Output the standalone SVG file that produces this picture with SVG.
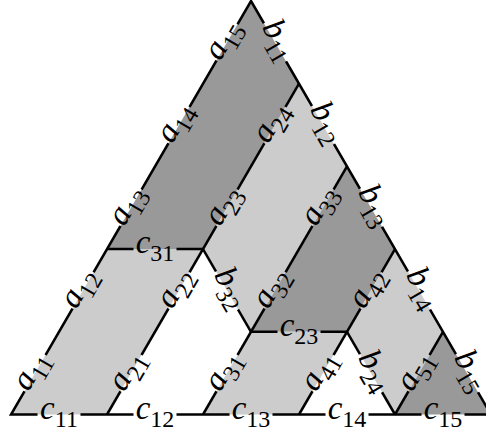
<svg xmlns="http://www.w3.org/2000/svg" width="486" height="430" viewBox="0 0 486 430">
<style>
.dark{fill:#999999}
.light{fill:#cccccc}
.ln{fill:none;stroke:#000;stroke-width:2.5;stroke-linejoin:miter;stroke-miterlimit:10}
.gp{fill:#000}
text{font-family:"Liberation Serif","Times New Roman",serif;font-size:33px;text-anchor:middle;fill:#000}
.v{font-style:italic}
.s{font-size:24px;font-style:normal}
</style>
<defs>
<mask id="gaps" maskUnits="userSpaceOnUse" x="0" y="0" width="486" height="430">
<rect x="0" y="0" width="486" height="430" fill="#fff"/>
<g class="gp">
<rect x="-21" y="-5" width="42" height="10" transform="translate(35,373.15) rotate(-59.87)"/>
<rect x="-21" y="-5" width="42" height="10" transform="translate(83,290.45) rotate(-59.87)"/>
<rect x="-21" y="-5" width="42" height="10" transform="translate(131,207.75) rotate(-59.87)"/>
<rect x="-21" y="-5" width="42" height="10" transform="translate(179,125.05) rotate(-59.87)"/>
<rect x="-21" y="-5" width="42" height="10" transform="translate(227,42.35) rotate(-59.87)"/>
<rect x="-21" y="-5" width="42" height="10" transform="translate(131,373.15) rotate(-59.87)"/>
<rect x="-21" y="-5" width="42" height="10" transform="translate(179,290.45) rotate(-59.87)"/>
<rect x="-21" y="-5" width="42" height="10" transform="translate(227,207.75) rotate(-59.87)"/>
<rect x="-21" y="-5" width="42" height="10" transform="translate(275,125.05) rotate(-59.87)"/>
<rect x="-21" y="-5" width="42" height="10" transform="translate(227,373.15) rotate(-59.87)"/>
<rect x="-21" y="-5" width="42" height="10" transform="translate(275,290.45) rotate(-59.87)"/>
<rect x="-21" y="-5" width="42" height="10" transform="translate(323,207.75) rotate(-59.87)"/>
<rect x="-21" y="-5" width="42" height="10" transform="translate(323,373.15) rotate(-59.87)"/>
<rect x="-21" y="-5" width="42" height="10" transform="translate(371,290.45) rotate(-59.87)"/>
<rect x="-21" y="-5" width="42" height="10" transform="translate(419,373.15) rotate(-59.87)"/>
<rect x="-22" y="-5" width="44" height="10" transform="translate(275,42.35) rotate(59.87)"/>
<rect x="-22" y="-5" width="44" height="10" transform="translate(323,125.05) rotate(59.87)"/>
<rect x="-22" y="-5" width="44" height="10" transform="translate(371,207.75) rotate(59.87)"/>
<rect x="-22" y="-5" width="44" height="10" transform="translate(419,290.45) rotate(59.87)"/>
<rect x="-22" y="-5" width="44" height="10" transform="translate(467,373.15) rotate(59.87)"/>
<rect x="-22" y="-5" width="44" height="10" transform="translate(227,290.45) rotate(59.87)"/>
<rect x="-22" y="-5" width="44" height="10" transform="translate(371,373.15) rotate(59.87)"/>
<rect x="37.5" y="409.5" width="43" height="10"/>
<rect x="133.5" y="409.5" width="43" height="10"/>
<rect x="229.5" y="409.5" width="43" height="10"/>
<rect x="325.5" y="409.5" width="43" height="10"/>
<rect x="421.5" y="409.5" width="43" height="10"/>
<rect x="133.5" y="244.1" width="43" height="10"/>
<rect x="277.5" y="326.8" width="43" height="10"/>
</g>
</mask>
</defs>

<g id="regions">
<polygon id="r-dark1" class="dark" points="107,249.1 251,1 299,83.7 203,249.1"/>
<polygon id="r-light1" class="light" points="11,414.5 107,414.5 203,249.1 107,249.1"/>
<polygon id="r-light2" class="light" points="299,83.7 347,166.4 251,331.8 203,249.1"/>
<polygon id="r-dark2" class="dark" points="347,166.4 395,249.1 347,331.8 251,331.8"/>
<polygon id="r-light3" class="light" points="203,414.5 299,414.5 347,331.8 251,331.8"/>
<polygon id="r-light4" class="light" points="395,249.1 443,331.8 395,414.5 347,331.8"/>
<polygon id="r-dark3" class="dark" points="395,414.5 491,414.5 443,331.8"/>
</g>

<g id="edges" class="ln" mask="url(#gaps)">
<polygon points="251,1 491,414.5 11,414.5"/>
<line x1="107" y1="414.5" x2="299" y2="83.7"/>
<line x1="203" y1="414.5" x2="347" y2="166.4"/>
<line x1="299" y1="414.5" x2="395" y2="249.1"/>
<line x1="395" y1="414.5" x2="443" y2="331.8"/>
<line x1="107" y1="249.1" x2="203" y2="249.1"/>
<line x1="251" y1="331.8" x2="347" y2="331.8"/>
<line x1="203" y1="249.1" x2="251" y2="331.8"/>
<line x1="347" y1="331.8" x2="395" y2="414.5"/>
</g>

<g id="labels">
<g id="l-a11" transform="translate(35,373.15) rotate(-59.87)"><text x="0" y="4"><tspan class="v">a</tspan><tspan class="s" dy="8">11</tspan></text></g>
<g id="l-a12" transform="translate(83,290.45) rotate(-59.87)"><text x="0" y="4"><tspan class="v">a</tspan><tspan class="s" dy="8">12</tspan></text></g>
<g id="l-a13" transform="translate(131,207.75) rotate(-59.87)"><text x="0" y="4"><tspan class="v">a</tspan><tspan class="s" dy="8">13</tspan></text></g>
<g id="l-a14" transform="translate(179,125.05) rotate(-59.87)"><text x="0" y="4"><tspan class="v">a</tspan><tspan class="s" dy="8">14</tspan></text></g>
<g id="l-a15" transform="translate(227,42.35) rotate(-59.87)"><text x="0" y="4"><tspan class="v">a</tspan><tspan class="s" dy="8">15</tspan></text></g>
<g id="l-a21" transform="translate(131,373.15) rotate(-59.87)"><text x="0" y="4"><tspan class="v">a</tspan><tspan class="s" dy="8">21</tspan></text></g>
<g id="l-a22" transform="translate(179,290.45) rotate(-59.87)"><text x="0" y="4"><tspan class="v">a</tspan><tspan class="s" dy="8">22</tspan></text></g>
<g id="l-a23" transform="translate(227,207.75) rotate(-59.87)"><text x="0" y="4"><tspan class="v">a</tspan><tspan class="s" dy="8">23</tspan></text></g>
<g id="l-a24" transform="translate(275,125.05) rotate(-59.87)"><text x="0" y="4"><tspan class="v">a</tspan><tspan class="s" dy="8">24</tspan></text></g>
<g id="l-a31" transform="translate(227,373.15) rotate(-59.87)"><text x="0" y="4"><tspan class="v">a</tspan><tspan class="s" dy="8">31</tspan></text></g>
<g id="l-a32" transform="translate(275,290.45) rotate(-59.87)"><text x="0" y="4"><tspan class="v">a</tspan><tspan class="s" dy="8">32</tspan></text></g>
<g id="l-a33" transform="translate(323,207.75) rotate(-59.87)"><text x="0" y="4"><tspan class="v">a</tspan><tspan class="s" dy="8">33</tspan></text></g>
<g id="l-a41" transform="translate(323,373.15) rotate(-59.87)"><text x="0" y="4"><tspan class="v">a</tspan><tspan class="s" dy="8">41</tspan></text></g>
<g id="l-a42" transform="translate(371,290.45) rotate(-59.87)"><text x="0" y="4"><tspan class="v">a</tspan><tspan class="s" dy="8">42</tspan></text></g>
<g id="l-a51" transform="translate(419,373.15) rotate(-59.87)"><text x="0" y="4"><tspan class="v">a</tspan><tspan class="s" dy="8">51</tspan></text></g>
<g id="l-b11" transform="translate(275,42.35) rotate(59.87)"><text x="0" y="4"><tspan class="v">b</tspan><tspan class="s" dy="8">11</tspan></text></g>
<g id="l-b12" transform="translate(323,125.05) rotate(59.87)"><text x="0" y="4"><tspan class="v">b</tspan><tspan class="s" dy="8">12</tspan></text></g>
<g id="l-b13" transform="translate(371,207.75) rotate(59.87)"><text x="0" y="4"><tspan class="v">b</tspan><tspan class="s" dy="8">13</tspan></text></g>
<g id="l-b14" transform="translate(419,290.45) rotate(59.87)"><text x="0" y="4"><tspan class="v">b</tspan><tspan class="s" dy="8">14</tspan></text></g>
<g id="l-b15" transform="translate(467,373.15) rotate(59.87)"><text x="0" y="4"><tspan class="v">b</tspan><tspan class="s" dy="8">15</tspan></text></g>
<g id="l-b32" transform="translate(227,290.45) rotate(59.87)"><text x="0" y="4"><tspan class="v">b</tspan><tspan class="s" dy="8">32</tspan></text></g>
<g id="l-b24" transform="translate(371,373.15) rotate(59.87)"><text x="0" y="4"><tspan class="v">b</tspan><tspan class="s" dy="8">24</tspan></text></g>
<g id="l-c11"><text x="59" y="418.5"><tspan class="v">c</tspan><tspan class="s" dy="8">11</tspan></text></g>
<g id="l-c12"><text x="155" y="418.5"><tspan class="v">c</tspan><tspan class="s" dy="8">12</tspan></text></g>
<g id="l-c13"><text x="251" y="418.5"><tspan class="v">c</tspan><tspan class="s" dy="8">13</tspan></text></g>
<g id="l-c14"><text x="347" y="418.5"><tspan class="v">c</tspan><tspan class="s" dy="8">14</tspan></text></g>
<g id="l-c15"><text x="443" y="418.5"><tspan class="v">c</tspan><tspan class="s" dy="8">15</tspan></text></g>
<g id="l-c31"><text x="155" y="253.1"><tspan class="v">c</tspan><tspan class="s" dy="8">31</tspan></text></g>
<g id="l-c23"><text x="299" y="335.8"><tspan class="v">c</tspan><tspan class="s" dy="8">23</tspan></text></g>
</g>
</svg>
